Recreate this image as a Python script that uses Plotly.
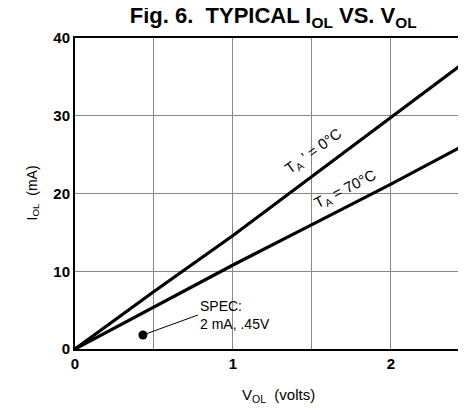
import plotly.graph_objects as go

# Data
vol = [0, 0.5, 1.0, 1.5, 2.0, 2.5]
iol_0c = [0, 7.4, 14.6, 22.2, 29.8, 37.4]
iol_70c = [0, 5.4, 10.8, 16.0, 21.2, 26.6]
spec_v = [0.43]
spec_i = [1.8]

x_tickvals = [0, 1, 2]
x_ticktext = ["0", "1", "2"]
y_tickvals = [0, 10, 20, 30, 40]
y_ticktext = ["0", "10", "20", "30", "40"]

FONT = "Liberation Sans, Arial, sans-serif"

# The page body has an 8px default margin, so the figure is drawn 8px
# smaller than the window and offset accordingly.
fig = go.Figure()
fig.add_trace(go.Scatter(x=vol, y=iol_0c, mode="lines",
                         line=dict(color="black", width=3.2), showlegend=False))
fig.add_trace(go.Scatter(x=vol, y=iol_70c, mode="lines",
                         line=dict(color="black", width=3.2), showlegend=False))
fig.add_trace(go.Scatter(x=spec_v, y=spec_i, mode="markers",
                         marker=dict(color="black", size=9), showlegend=False))

annos = [
    dict(x=1.51, y=25.4, xref="x", yref="y", showarrow=False,
         text="T<sub>A</sub> ' = 0°C", textangle=-36,
         font=dict(family=FONT, size=15, color="black")),
    dict(x=1.71, y=20.5, xref="x", yref="y", showarrow=False,
         text="T<sub>A</sub> = 70°C", textangle=-27,
         font=dict(family=FONT, size=15, color="black")),
    dict(x=spec_v[0], y=spec_i[0], xref="x", yref="y", showarrow=True,
         ax=55, ay=-20, arrowhead=0, arrowwidth=1, arrowcolor="black",
         standoff=4, align="left", xanchor="left", yanchor="middle",
         text="SPEC:<br>2 mA, .45V",
         font=dict(family=FONT, size=14, color="black")),
    dict(x=0, y=0.5, xref="paper", yref="paper", showarrow=False,
         xshift=-54, text="I<sub>OL</sub>  (mA)", textangle=-90,
         font=dict(family=FONT, size=14, color="black")),
    dict(x=0.5, y=0, xref="paper", yref="paper", showarrow=False,
         xshift=8, yshift=-46, yanchor="middle",
         text="V<sub>OL</sub>  (volts)",
         font=dict(family=FONT, size=15, color="black")),
]

fig.update_layout(
    width=458, height=400,
    margin=dict(l=67, r=0, t=30, b=59),
    paper_bgcolor="white", plot_bgcolor="white",
    title=dict(text="<b>Fig. 6.  TYPICAL I<sub>OL</sub> VS. V<sub>OL</sub></b>",
               x=0.579, xanchor="center", y=1.0, yanchor="top",
               font=dict(family=FONT, size=22, color="black")),
    annotations=annos,
    xaxis=dict(range=[0, 2.475], tickvals=x_tickvals, ticktext=x_ticktext,
               showgrid=True, gridcolor="#888888", gridwidth=1,
               minor=dict(dtick=0.5, showgrid=True, gridcolor="#888888", gridwidth=1),
               showline=True, linecolor="black", linewidth=2, mirror=True,
               zeroline=False, ticks="",
               tickfont=dict(family=FONT, size=15, color="black", weight="bold")),
    yaxis=dict(range=[0, 40], tickvals=y_tickvals, ticktext=y_ticktext,
               showgrid=True, gridcolor="#888888", gridwidth=1,
               showline=True, linecolor="black", linewidth=2,
               zeroline=False, ticks="",
               tickfont=dict(family=FONT, size=15, color="black", weight="bold")),
)

fig.write_html("out.html")
